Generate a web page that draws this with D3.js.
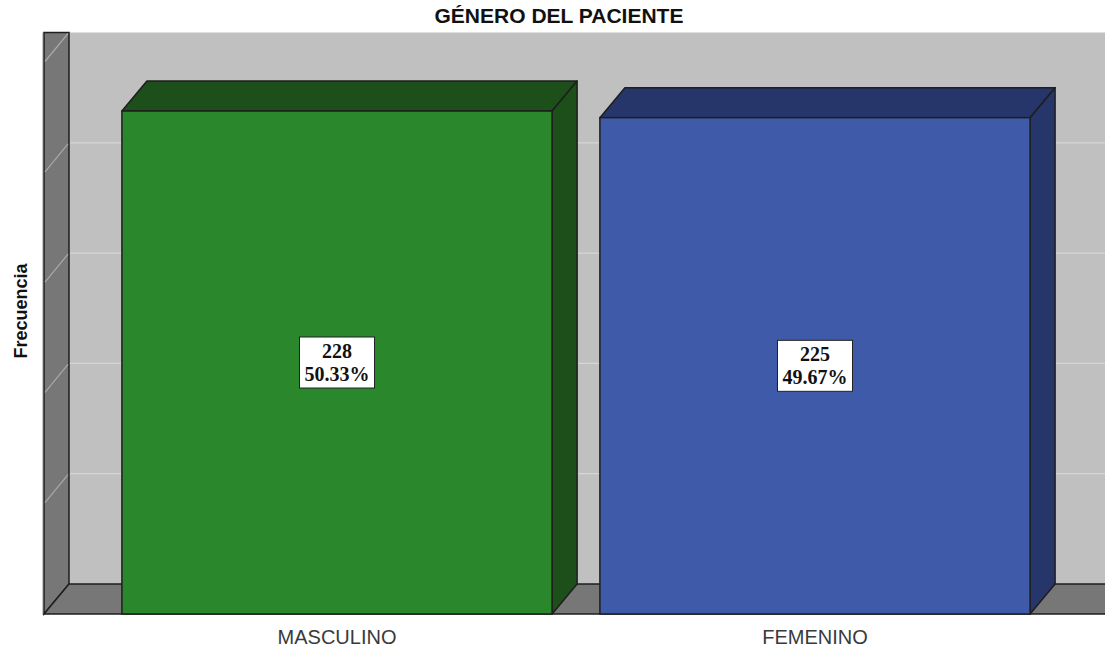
<!DOCTYPE html>
<html>
<head>
<meta charset="utf-8">
<script src="https://cdn.jsdelivr.net/npm/d3@7"></script>
<style>
  html, body { margin: 0; padding: 0; background: #ffffff; }
  svg { display: block; }
</style>
</head>
<body>
<div id="chart"></div>
<script>
const categories = ["MASCULINO", "FEMENINO"];
const counts = [228, 225];
const percents = ["50.33%", "49.67%"];
const tickValues = [0, 50, 100, 150, 200, 250];
const frontColors = ["#2a872c", "#3e5aa8"];
const darkColors = ["#1c4f19", "#26356a"];

const W = 1105, H = 647;
const DX = 25, DY = 30;
const svg = d3.select("#chart").append("svg").attr("width", W).attr("height", H);

const x = d3.scaleBand().domain(categories).range([44, 1108]).paddingInner(0.1).paddingOuter(0.163);
const y = d3.scaleLinear().domain([0, 250]).range([614, 62.5]);

const edge = "#1e1e1e";
const wallTop = y(250) - DY;
const floorFront = y(0), floorBack = y(0) - DY;

// back wall
svg.append("rect").attr("x", 44 + DX).attr("y", wallTop).attr("width", W - 44 - DX).attr("height", floorBack - wallTop)
  .attr("fill", "#c0c0c0");
// gridlines on back wall
svg.selectAll(".grid").data(tickValues.filter(v => v > 0 && v < 250)).enter().append("line")
  .attr("x1", 44 + DX).attr("x2", W).attr("y1", d => y(d) - DY).attr("y2", d => y(d) - DY)
  .attr("stroke", "#d6d6d6").attr("stroke-width", 1.2);

// left wall
svg.append("polygon")
  .attr("points", [[44, wallTop], [44 + DX, wallTop], [44 + DX, floorBack], [44, floorFront]].map(p => p.join(",")).join(" "))
  .attr("fill", "#777777").attr("stroke", edge).attr("stroke-width", 1.5);
svg.append("line").attr("x1", 42.5).attr("x2", 42.5).attr("y1", wallTop).attr("y2", floorFront)
  .attr("stroke", "#c8c8c8").attr("stroke-width", 1);
svg.selectAll(".wtick").data(tickValues.filter(v => v > 0)).enter().append("line")
  .attr("x1", 45).attr("y1", d => y(d) - 1).attr("x2", 44 + DX - 1).attr("y2", d => y(d) - DY + 1)
  .attr("stroke", "#a9a9a9").attr("stroke-width", 1.2);

// floor
svg.append("polygon")
  .attr("points", [[44, floorFront], [44 + DX, floorBack], [W + 5, floorBack], [W + 5, floorFront]].map(p => p.join(",")).join(" "))
  .attr("fill", "#777777").attr("stroke", edge).attr("stroke-width", 1.5);

// bars
const bars = svg.selectAll(".bar").data(categories).enter().append("g");
bars.append("polygon") // top
  .attr("points", (d, i) => {
    const x0 = x(d), x1 = x(d) + x.bandwidth(), yt = y(counts[i]);
    return [[x0, yt], [x0 + DX, yt - DY], [x1 + DX, yt - DY], [x1, yt]].map(p => p.join(",")).join(" ");
  })
  .attr("fill", (d, i) => darkColors[i]).attr("stroke", edge).attr("stroke-width", 1.5).attr("stroke-linejoin", "round");
bars.append("polygon") // side
  .attr("points", (d, i) => {
    const x1 = x(d) + x.bandwidth(), yt = y(counts[i]);
    return [[x1, yt], [x1 + DX, yt - DY], [x1 + DX, floorBack], [x1, floorFront]].map(p => p.join(",")).join(" ");
  })
  .attr("fill", (d, i) => darkColors[i]).attr("stroke", edge).attr("stroke-width", 1.5).attr("stroke-linejoin", "round");
bars.append("rect") // front
  .attr("x", d => x(d)).attr("y", (d, i) => y(counts[i]))
  .attr("width", x.bandwidth()).attr("height", (d, i) => y(0) - y(counts[i]))
  .attr("fill", (d, i) => frontColors[i]).attr("stroke", edge).attr("stroke-width", 1.5);

// value labels
const lbl = svg.selectAll(".lbl").data(categories).enter().append("g")
  .attr("transform", (d, i) => `translate(${x(d) + x.bandwidth() / 2},${(y(counts[i]) + y(0)) / 2})`);
lbl.append("rect").attr("x", -37.5).attr("y", -25.5).attr("width", 75).attr("height", 51)
  .attr("fill", "#ffffff").attr("stroke", "#222").attr("stroke-width", 1);
lbl.append("text").attr("text-anchor", "middle").attr("y", -5)
  .style("font-family", "'Liberation Serif', 'Times New Roman', serif").style("font-weight", "bold").style("font-size", "20px")
  .attr("fill", "#111").text((d, i) => counts[i]);
lbl.append("text").attr("text-anchor", "middle").attr("y", 18)
  .style("font-family", "'Liberation Serif', 'Times New Roman', serif").style("font-weight", "bold").style("font-size", "20px")
  .attr("fill", "#111").text((d, i) => percents[i]);

// category axis labels
svg.selectAll(".cat").data(categories).enter().append("text")
  .attr("x", d => x(d) + x.bandwidth() / 2).attr("y", 644).attr("text-anchor", "middle")
  .style("font-family", "'Liberation Sans', Arial, sans-serif").style("font-size", "20px")
  .attr("fill", "#3a3a3a").text(d => d);

// title
svg.append("text").attr("x", 559).attr("y", 23).attr("text-anchor", "middle")
  .style("font-family", "'Liberation Sans', Arial, sans-serif").style("font-weight", "bold").style("font-size", "21px")
  .attr("fill", "#111").text("GÉNERO DEL PACIENTE");

// y-axis title
svg.append("text").attr("transform", "translate(27,311) rotate(-90)").attr("text-anchor", "middle")
  .style("font-family", "'Liberation Sans', Arial, sans-serif").style("font-weight", "bold").style("font-size", "18px")
  .attr("fill", "#111").text("Frecuencia");
</script>
</body>
</html>
